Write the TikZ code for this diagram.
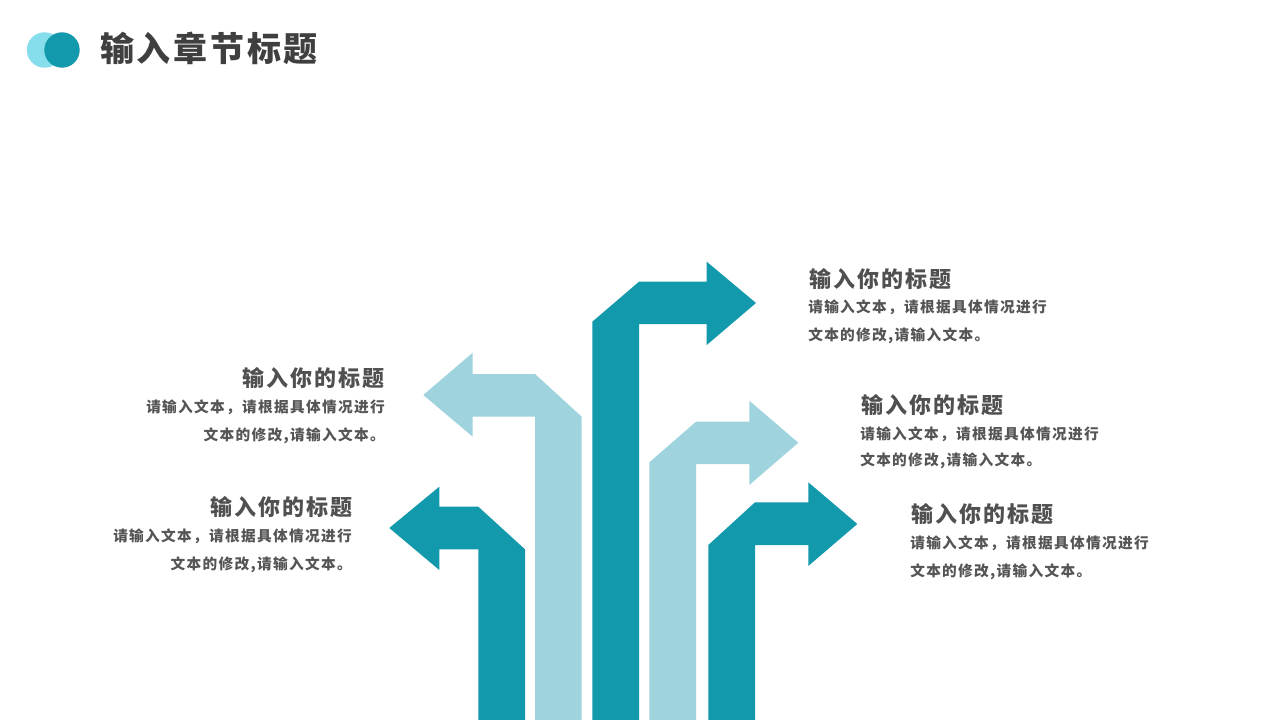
\documentclass[tikz,border=0pt]{standalone}
\usepackage{fontspec}
\setmainfont{Noto Sans CJK SC}
\newfontfamily\pagefont[LetterSpace=8]{Noto Sans CJK SC}
\newfontfamily\headfont[LetterSpace=9]{Noto Sans CJK SC}
\newfontfamily\bodyfont[LetterSpace=9]{Noto Sans CJK SC}
\definecolor{arrowdark}{HTML}{1399AC}
\definecolor{arrowlight}{HTML}{9FD4DE}
\definecolor{dotlight}{HTML}{86DEEC}
\definecolor{pagegray}{HTML}{3F3F3F}
\definecolor{headgray}{HTML}{505050}
\definecolor{textgray}{HTML}{555555}
\begin{document}
\begin{tikzpicture}[x=0.75pt,y=-0.75pt,
		darkarrow/.style={fill=arrowdark,draw=none},
		lightarrow/.style={fill=arrowlight,draw=none},
		pagetitle/.style={font={\pagefont\bfseries\fontsize{25.5}{30}\selectfont},text=pagegray,inner sep=0pt},
		headtext/.style={font={\headfont\bfseries\fontsize{16.5}{20}\selectfont},text=headgray,inner sep=0pt},
		bodytext/.style={font={\bodyfont\bfseries\fontsize{11}{13}\selectfont},text=textgray,inner sep=0pt}]
		\useasboundingbox[fill=white] (0,0) rectangle (1280,720);

		\fill[dotlight] (44.5,50) circle (17.7);
		\fill[arrowdark] (62,50) circle (17.7);
		\node[pagetitle,anchor=west] (page) at (100,48) {输入章节标题};

		\fill[darkarrow] (525,720) -- (525,549.3) -- (478.3,506.7) -- (439.3,506.7) -- (439.3,486.7) -- (389.3,528) -- (439.3,570) -- (439.3,549.3) -- (478.3,549.3) -- (478.3,720) -- cycle;
		\fill[lightarrow] (581.7,720) -- (581.7,416.7) -- (535,374) -- (472.7,374) -- (472.7,352.7) -- (423.3,395) -- (472.7,436.7) -- (472.7,416.7) -- (535,416.7) -- (535,720) -- cycle;
		\fill[darkarrow] (592.3,720) -- (592.3,321.7) -- (639,281.7) -- (706.7,281.7) -- (706.7,261.7) -- (756,303) -- (706.7,345) -- (706.7,324) -- (639,324) -- (639,720) -- cycle;
		\fill[lightarrow] (649.3,720) -- (649.3,462.3) -- (696,421.7) -- (749.3,421.7) -- (749.3,400.7) -- (798.3,442.7) -- (749.3,485) -- (749.3,464) -- (696,464) -- (696,720) -- cycle;
		\fill[darkarrow] (708.3,720) -- (708.3,545) -- (755,502.3) -- (808.3,502.3) -- (808.3,482.3) -- (857.3,524) -- (808.3,566) -- (808.3,545) -- (755,545) -- (755,720) -- cycle;

		\node[headtext,anchor=west] (head1) at (809,279) {输入你的标题};
		\node[bodytext,anchor=west] (body1a) at (808,307) {请输入文本，请根据具体情况进行};
		\node[bodytext,anchor=west] (body1b) at (808,336) {文本的修改,请输入文本。};

		\node[headtext,anchor=east] (head2) at (385,378) {输入你的标题};
		\node[bodytext,anchor=east] (body2a) at (385,407) {请输入文本，请根据具体情况进行};
		\node[bodytext,anchor=east] (body2b) at (385,436) {文本的修改,请输入文本。};

		\node[headtext,anchor=west] (head3) at (861,405) {输入你的标题};
		\node[bodytext,anchor=west] (body3a) at (860,434) {请输入文本，请根据具体情况进行};
		\node[bodytext,anchor=west] (body3b) at (860,461) {文本的修改,请输入文本。};

		\node[headtext,anchor=east] (head4) at (353,507) {输入你的标题};
		\node[bodytext,anchor=east] (body4a) at (352,536) {请输入文本，请根据具体情况进行};
		\node[bodytext,anchor=east] (body4b) at (352,565) {文本的修改,请输入文本。};

		\node[headtext,anchor=west] (head5) at (911,514) {输入你的标题};
		\node[bodytext,anchor=west] (body5a) at (910,543) {请输入文本，请根据具体情况进行};
		\node[bodytext,anchor=west] (body5b) at (910,572) {文本的修改,请输入文本。};
	\end{tikzpicture}
\end{document}
